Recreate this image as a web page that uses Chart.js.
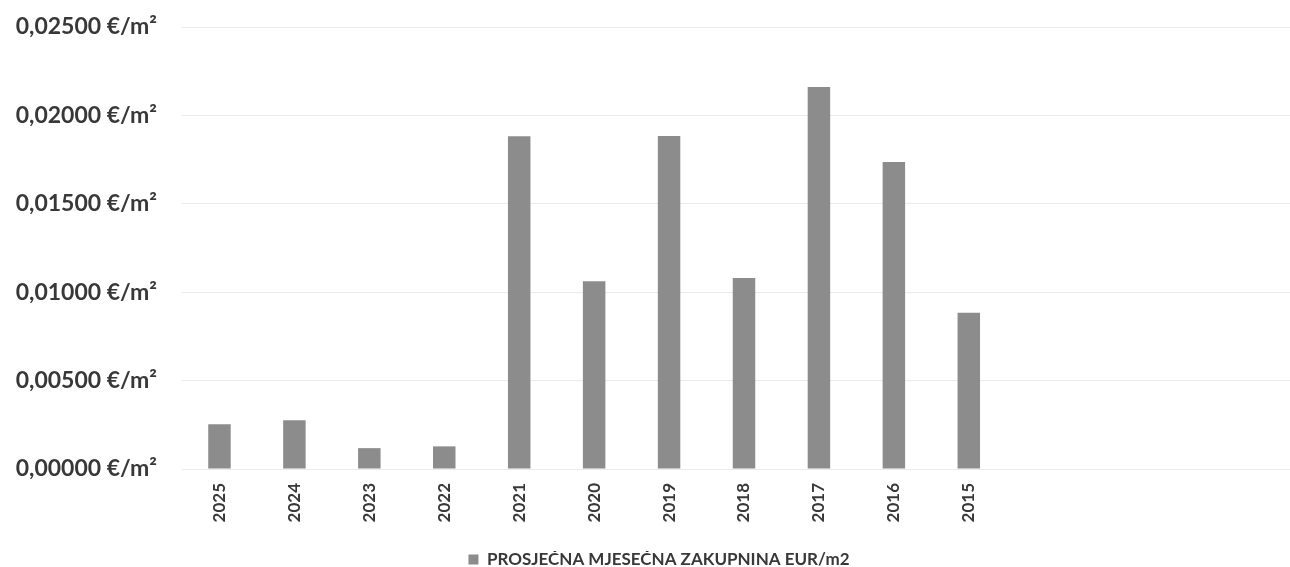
<!DOCTYPE html>
<html>
<head>
<meta charset="utf-8">
<script src="https://cdn.jsdelivr.net/npm/chart.js@4"></script>
<style>
  html, body { margin: 0; padding: 0; background: #fff; overflow: hidden; }
  #wrap { position: relative; width: 1324px; height: 578px; }
</style>
</head>
<body>
<div id="wrap"><canvas id="rentChart"></canvas></div>
<script>
// monthly average rent per m2, by year (newest first)
const years = ["2025", "2024", "2023", "2022", "2021", "2020", "2019", "2018", "2017", "2016", "2015"];
const rentValues = [0.00253, 0.00276, 0.00118, 0.00128, 0.01882, 0.01062, 0.01884, 0.01081, 0.0216, 0.01736, 0.00884];
const yTicks = [0, 0.005, 0.01, 0.015, 0.02, 0.025];
const seriesLabel = "PROSJEČNA MJESEČNA ZAKUPNINA EUR/m2";

// the sheet range has a few empty rows after 2015
const labels = years.concat(["", "", "", ""]);

const textColor = "#383838";
const barColor = "#8c8c8c";

const ctx = document.getElementById("rentChart").getContext("2d");
new Chart(ctx, {
    type: "bar",
    data: {
        labels: labels,
        datasets: [{
            label: seriesLabel,
            data: rentValues,
            backgroundColor: barColor,
            borderWidth: 0,
            categoryPercentage: 1,
            barPercentage: 0.3
        }]
    },
    options: {
        responsive: true,
        maintainAspectRatio: false,
        animation: false,
        layout: { padding: { left: 12, right: 18, top: 27, bottom: 0 } },
        plugins: {
            tooltip: { enabled: false },
            legend: {
                position: "bottom",
                labels: {
                    color: textColor,
                    font: { family: "Lato", size: 17, weight: "bold" },
                    boxWidth: 10,
                    boxHeight: 10,
                    padding: 0
                }
            }
        },
        scales: {
            x: {
                grid: { display: false, drawTicks: false },
                border: { display: false },
                afterFit: scale => { scale.height = 82; },
                ticks: {
                    color: textColor,
                    font: { family: "Lato", size: 17, weight: "bold" },
                    minRotation: 90,
                    maxRotation: 90,
                    autoSkip: false,
                    padding: 14
                }
            },
            y: {
                min: yTicks[0],
                max: yTicks[yTicks.length - 1],
                afterBuildTicks: scale => {
                    scale.ticks = yTicks.map(v => ({ value: v }));
                },
                afterFit: scale => {
                    scale.width = 170;
                    // tick padding would otherwise push the plot top down
                    scale.paddingTop = 0;
                    scale.paddingBottom = 0;
                },
                grid: { color: "#ebebeb", lineWidth: 1, drawTicks: false },
                border: { display: false },
                ticks: {
                    color: textColor,
                    font: { family: "Lato", size: 23, weight: "bold" },
                    padding: 25,
                    callback: v => v.toFixed(5).replace(".", ",") + " €/m²"
                }
            }
        }
    }
});
</script>
</body>
</html>
